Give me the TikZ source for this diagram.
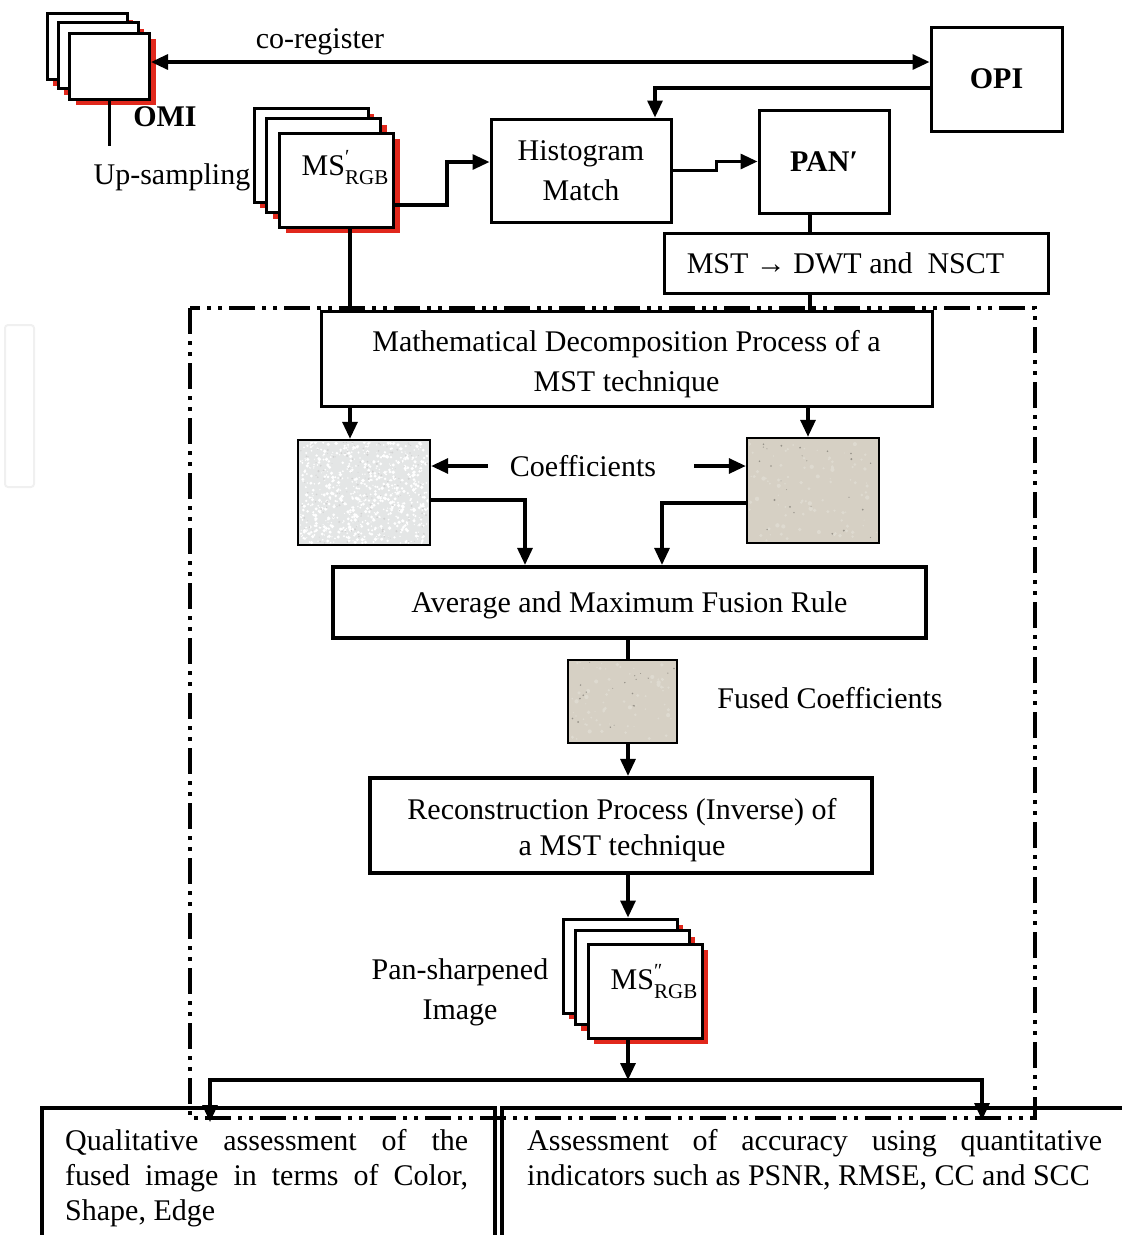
\documentclass[tikz,border=0pt]{standalone}
\usepackage{fontspec}
\setmainfont{Liberation Serif}
\usetikzlibrary{arrows.meta,shadows,calc}
\definecolor{shred}{RGB}{225,40,28}
\definecolor{beige}{RGB}{214,208,196}
\definecolor{pale}{RGB}{228,230,230}
\newcommand\tf{\fontsize{30}{36}\selectfont}
\newcommand\msl[1]{MS\makebox[0pt][l]{\raisebox{0.4em}{\fontsize{20}{20}\selectfont #1}}\raisebox{-0.3em}{\fontsize{21}{21}\selectfont RGB}}
\begin{document}
\begin{tikzpicture}[x=1pt,y=-1pt,
 every node/.style={inner sep=0pt, font=\tf},
 box/.style={draw, line width=3pt, fill=white, align=center},
 tbox/.style={box, line width=4.2pt},
 layer/.style={draw, line width=3pt, fill=white, minimum width=114pt, minimum height=94pt,
   drop shadow={shadow xshift=6pt,shadow yshift=-6pt,fill=shred,opacity=1}},
 img/.style={draw, line width=2.4pt},
 conn/.style={line width=3.2pt},
 arr/.style={conn,-{Triangle[length=17pt,width=15pt]}},
 darr/.style={conn,{Triangle[length=17pt,width=15pt]}-{Triangle[length=17pt,width=15pt]}},
 frame/.style={line width=4pt, dash pattern=on 26pt off 7pt on 4pt off 7pt on 4pt off 7pt},
]
\useasboundingbox (0,0) rectangle (1122,1235);
\pgfmathsetseed{7}
% faint artefact at the left
\draw[gray!12, line width=2pt, rounded corners=3pt] (5,325) rectangle (34,487);

% OMI stack
\node[layer, minimum width=80pt, minimum height=66pt] (omi3) at (87,46.5) {};
\node[layer, minimum width=80pt, minimum height=66pt] (omi2) at (98,55.5) {};
\node[layer, minimum width=80pt, minimum height=66pt] (omi) at (109.5,66) {};
\node[font=\tf\bfseries] (omilbl) at (165,117) {OMI};
\node (uplbl) at (172,177) {Up-sampling};
\node (colbl) at (320,42) {co-register};

% OPI, Histogram, PAN
\node[box, minimum width=131pt, minimum height=104pt, font=\tf\bfseries] (opi) at (996.5,79) {OPI};
\node[box, minimum width=180pt, minimum height=103pt, font=\fontsize{30}{40}\selectfont] (hist) at (581,170.5) {Histogram\\Match};
\node[box, minimum width=130pt, minimum height=103pt, font=\tf\bfseries] (pan) at (824,161.5) {PAN′};

% MS' stack
\node[layer] (ms3) at (311,155) {};
\node[layer] (ms2) at (323.5,165.5) {};
\node[layer] (ms) at (336.5,180) {};
\node (mslbl) at (345,168) {\msl{′}};

% MST box and decomposition
\node[box, minimum width=384pt, minimum height=60pt] (mst) at (856,263) {MST → DWT and\ \ NSCT\hspace*{21pt}};
\node[box, minimum width=611pt, minimum height=95pt] (math) at (626.5,358.5) {};
\node[align=center, font=\fontsize{30}{40}\selectfont] (mathtxt) at (626.5,364) {Mathematical Decomposition Process of a\\MST technique};

% coefficient images
\node[img, fill=pale, minimum width=132pt, minimum height=105pt] (cl) at (364,492.5) {};
\node[img, fill=beige, minimum width=132pt, minimum height=105pt] (cr) at (813,490.5) {};
\node[inner xsep=22pt] (coef) at (583,466) {Coefficients};

% fusion
\node[tbox, minimum width=593pt, minimum height=71pt] (fus) at (629.5,602.5) {};
\node (fustxt) at (629.5,605) {Average and Maximum Fusion Rule};
\node[img, fill=beige, minimum width=109pt, minimum height=83pt] (fimg) at (622.5,701.5) {};
\node (fclbl) at (830,698) {Fused Coefficients};

% textures
\begin{scope}
\clip (300,442) rectangle (428,543);
\foreach \i in {1,...,700} \fill[white] ({300+rnd*128},{442+rnd*101}) circle ({0.5+rnd*1.4});
\foreach \i in {1,...,160} \fill[gray!35] ({300+rnd*128},{442+rnd*101}) circle ({0.4+rnd*0.8});
\end{scope}
\begin{scope}
\clip (749,440) rectangle (877,541);
\foreach \i in {1,...,90} \fill[beige!80!white] ({749+rnd*128},{440+rnd*101}) circle ({0.6+rnd*1.6});
\foreach \i in {1,...,25} \fill[beige!70!black] ({749+rnd*128},{440+rnd*101}) circle ({0.4+rnd*0.7});
\end{scope}
\begin{scope}
\clip (570,662) rectangle (675,741);
\foreach \i in {1,...,70} \fill[beige!80!white] ({570+rnd*105},{662+rnd*79}) circle ({0.6+rnd*1.6});
\foreach \i in {1,...,20} \fill[beige!70!black] ({570+rnd*105},{662+rnd*79}) circle ({0.4+rnd*0.7});
\end{scope}

% reconstruction
\node[tbox, minimum width=502pt, minimum height=95pt] (rec) at (621,825.5) {};
\node[align=center, font=\fontsize{30}{36}\selectfont] (rectxt) at (622,830) {Reconstruction Process (Inverse) of\\a MST technique};

% pan-sharpened stack
\node[layer] (ps3) at (620,966) {};
\node[layer] (ps2) at (632,977.5) {};
\node[layer] (ps) at (645,991) {};
\node (pslbl) at (654,982) {\msl{″}};
\node[align=center, font=\fontsize{30}{40}\selectfont] (pstxt) at (460,992) {Pan-sharpened\\Image};

% assessment boxes
\node[tbox, minimum width=453pt, minimum height=140pt, anchor=north west] (qual) at (40,1106) {};
\node[tbox, minimum width=640pt, minimum height=140pt, anchor=north west] (quan) at (500,1106) {};
\node[align=left, anchor=north west, font=\fontsize{30}{35}\selectfont] (qualtxt) at (65,1129)
 {\makebox[403pt][s]{Qualitative assessment of the}\\\makebox[403pt][s]{fused image in terms of Color,}\\Shape, Edge};
\node[align=left, anchor=north west, font=\fontsize{30}{35}\selectfont] (quantxt) at (527,1129)
 {\makebox[575pt][s]{Assessment of accuracy using quantitative}\\indicators such as PSNR, RMSE, CC and SCC};

% connectors
\draw[darr] ([yshift=4pt]omi.east) -- ([yshift=4pt]omi.east -| opi.west);
\draw[conn] (omi.south) -- ++(0,45);
\draw[arr] ([yshift=-9pt]opi.west) -| ([xshift=74pt]hist.north);
\draw[arr] (hist.east) -- ++(44,0) |- (pan.west);
\draw[arr] ([yshift=-25pt]ms.east) -- ++(52,0) |- ([yshift=8.5pt]hist.west);
\draw[conn] ([xshift=13.5pt]ms.south) -- ([xshift=13.5pt]ms.south |- math.north);
\draw[conn] ([xshift=-14pt]pan.south) -- ([xshift=-14pt]pan.south |- mst.north);
\draw[conn] ([xshift=-46pt]mst.south) -- ([xshift=-46pt]mst.south |- math.north);
\draw[arr] ([xshift=-14pt]cl.north |- math.south) -- ([xshift=-14pt]cl.north);
\draw[arr] ([xshift=-5pt]cr.north |- math.south) -- ([xshift=-5pt]cr.north);
\draw[arr] (coef.west) -- (coef.west -| cl.east);
\draw[arr] ([xshift=16pt]coef.east) -- (coef.east -| cr.west);
\draw[arr] ([yshift=-7.5pt]cl.east) -| ([xshift=-104.5pt]fus.north);
\draw[arr] ([yshift=-12.5pt]cr.west) -| ([xshift=32.5pt]fus.north);
\coordinate (sp) at (628,0);
\draw[conn] (sp |- fus.south) -- (sp |- fimg.north);
\draw[arr] (sp |- fimg.south) -- (sp |- rec.north);
\draw[arr] (sp |- rec.south) -- (sp |- ps3.north);
\coordinate (hb) at (628,1080);
\coordinate (ql) at (210,1122);
\coordinate (qr) at (982,1120);
\draw[arr] (sp |- ps.south) -- (hb);
\draw[arr] (hb) -| (ql);
\draw[arr] (hb) -| (qr);

% dash-dot frame
\draw[frame] (190,308) rectangle (1035,1118);
\end{tikzpicture}
\end{document}
